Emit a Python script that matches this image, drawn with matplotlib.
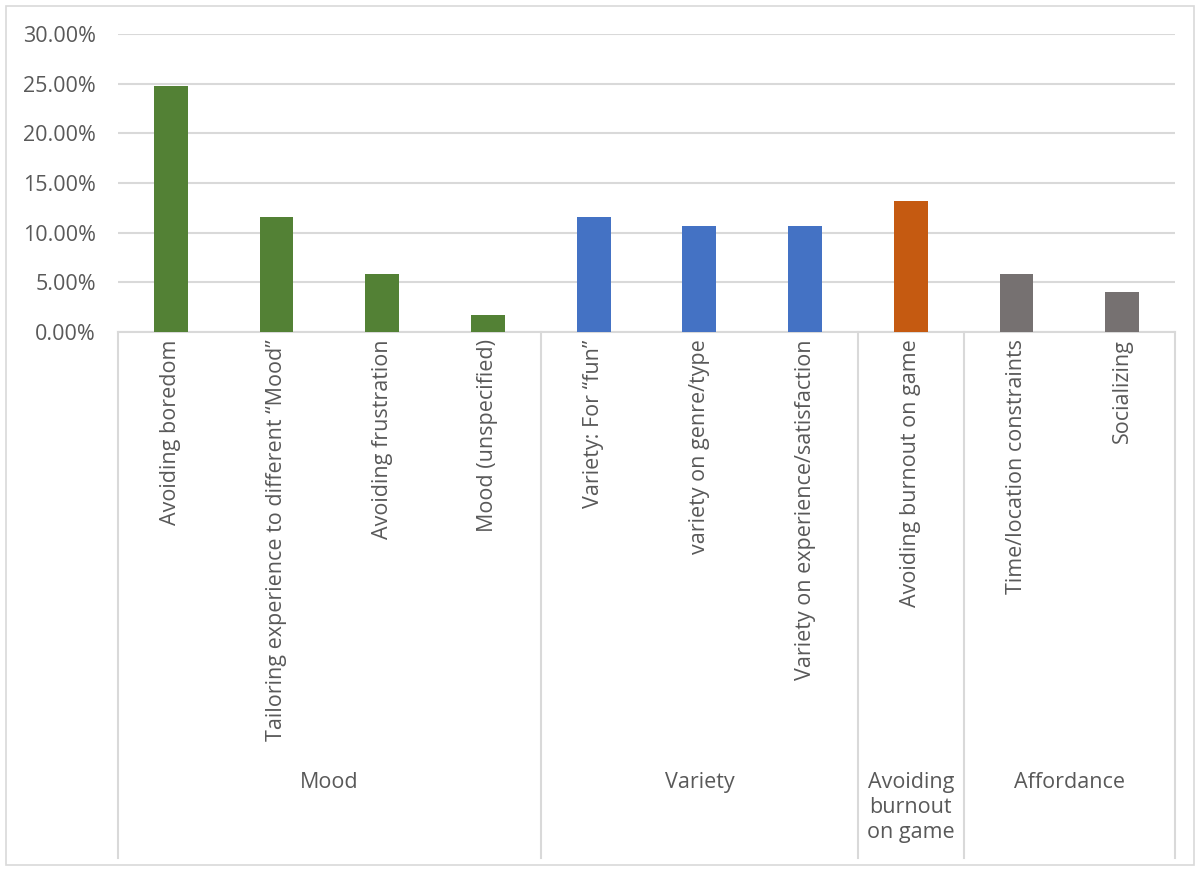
import matplotlib.pyplot as plt
from matplotlib.patches import Rectangle
from matplotlib.ticker import PercentFormatter
import matplotlib.transforms as mtransforms

plt.rcParams['font.family'] = ['Open Sans', 'DejaVu Sans']

# reasons and their share of responses
reasons = ['Avoiding boredom', 'Tailoring experience to different \u201cMood\u201d',
           'Avoiding frustration', 'Mood (unspecified)',
           'Variety: For \u201cfun\u201d', 'variety on genre/type',
           'Variety on experience/satisfaction',
           'Avoiding burnout on game',
           'Time/location constraints', 'Socializing']
shares = [0.248, 0.116, 0.058, 0.017, 0.116, 0.107, 0.107, 0.132, 0.058, 0.040]

# top-level groups: name and how many reasons each holds
groups = ['Mood', 'Variety', 'Avoiding\nburnout\non game', 'Affordance']
group_sizes = [4, 3, 1, 2]
group_colors = ['#538135', '#4472C4', '#C55A11', '#767171']

text_color = '#595959'
line_color = '#D9D9D9'
fs = 15.5

fig = plt.figure(figsize=(11.99, 8.69), dpi=100)
ax = fig.add_axes([118 / 1199, 1 - 332 / 869, (1175 - 118) / 1199, (332 - 34) / 869])

colors = []
for c, n in zip(group_colors, group_sizes):
    colors += [c] * n

x = list(range(len(reasons)))
ax.bar(x, shares, width=0.32, color=colors, zorder=3)

ax.set_xlim(-0.5, len(reasons) - 0.5)
ax.set_ylim(0, 0.30)
ax.set_yticks([0, 0.05, 0.10, 0.15, 0.20, 0.25, 0.30])
ax.yaxis.set_major_formatter(PercentFormatter(1.0, decimals=2))
ax.tick_params(axis='y', length=0, pad=16, labelsize=fs, labelcolor=text_color)
ax.set_xticks([])
ax.grid(axis='y', color=line_color, linewidth=1.5, zorder=0)
for s in ['top', 'right', 'left']:
    ax.spines[s].set_visible(False)
ax.spines['bottom'].set_color(line_color)
ax.spines['bottom'].set_linewidth(1.5)

trans = mtransforms.blended_transform_factory(ax.transData, ax.transAxes)

# rotated reason labels under each bar
for xi, name in zip(x, reasons):
    ax.text(xi, -0.024, name, rotation=90, ha='center', va='top',
            fontsize=fs, color=text_color, transform=trans)

# group dividers and group names
bottom = -(858 - 332) / 298
edge = -0.5
ax.plot([edge, edge], [0, bottom], color=line_color, lw=1.5,
        transform=trans, clip_on=False)
for name, n in zip(groups, group_sizes):
    mid = edge + n / 2
    edge += n
    ax.plot([edge, edge], [0, bottom], color=line_color, lw=1.5,
            transform=trans, clip_on=False)
    ax.text(mid, -(772 - 332) / 298, name, ha='center', va='top',
            fontsize=fs, color=text_color, linespacing=1.25, transform=trans)

# chart border
fig.patches.append(Rectangle((6 / 1199, 4 / 869), 1188 / 1199, 859 / 869,
                             transform=fig.transFigure, fill=False,
                             edgecolor=line_color, lw=1.2))

fig.savefig('out.png', dpi=100)
